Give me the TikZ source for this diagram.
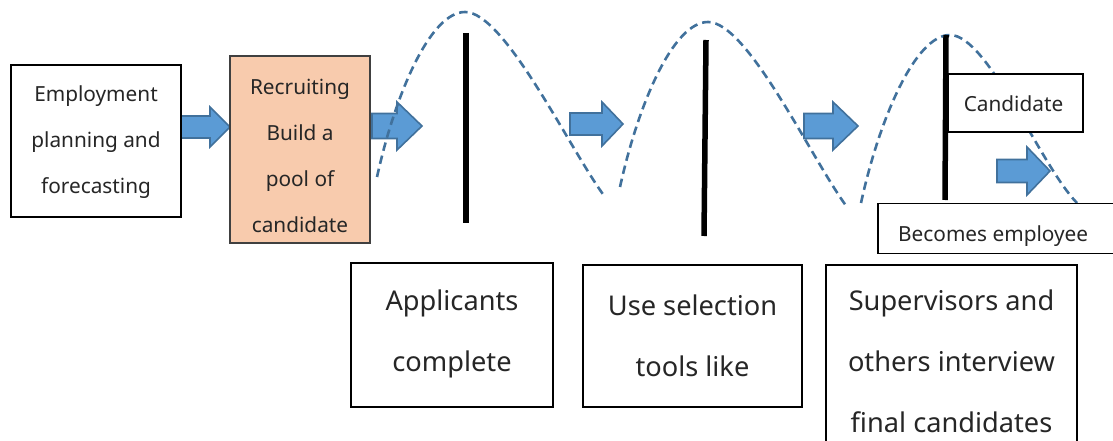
\documentclass[tikz,border=0pt]{standalone}
\usepackage{fontspec}
\setmainfont{Noto Sans}
\definecolor{peach}{HTML}{F8CBAD}
\definecolor{arrowfill}{HTML}{5B9BD5}
\definecolor{arrowline}{HTML}{41719C}

% block arrow: x-start, x-head, x-tip, y-centre, shaft half-height, head half-height
\newcommand\blockarrow[6]{%
  \draw[blockarr] (#1,#4-#5) -- (#2,#4-#5) -- (#2,#4-#6) -- (#3,#4)
    -- (#2,#4+#6) -- (#2,#4+#5) -- (#1,#4+#5) -- cycle;}

\begin{document}
\begin{tikzpicture}[x=1pt,y=-1pt,
  box/.style={draw=black, line width=1.2pt, fill=white, inner sep=0pt},
  txt/.style={inner sep=0pt, align=center, text=black!85},
  small/.style={font=\fontsize{20.8}{46}\selectfont},
  large/.style={font=\fontsize{27.2}{61}\selectfont},
  blockarr/.style={fill=arrowfill, draw=arrowline, line width=1.6pt, line join=miter},
  wave/.style={draw=arrowline, line width=2.6pt, dash pattern=on 8.5pt off 5pt},
  pole/.style={draw=black, line width=5.5pt}]
\useasboundingbox (0,0) rectangle (1113,441);
\clip (0,0) rectangle (1113,441);

% block arrows between the stages
\blockarrow{181}{210}{230}{127}{11}{20}
\blockarrow{372}{397}{422}{126}{12.5}{24}
\blockarrow{570}{602}{623}{124}{11}{22}
\blockarrow{804}{833}{858}{126}{12.5}{24}
\blockarrow{997}{1027}{1050}{171}{11.5}{24}

% hurdles
\draw[wave] (377,177) .. controls (395,95) and (430,12) .. (465,12)
  .. controls (505,12) and (570,150) .. (605,197);
\draw[wave] (620,187) .. controls (638,105) and (673,22) .. (708,22)
  .. controls (748,22) and (812,160) .. (847,207);
\draw[wave] (861,203) .. controls (879,120) and (915,35) .. (950,35)
  .. controls (988,35) and (1040,165) .. (1077,203);

% poles
\coordinate (p1t) at (466,33);  \coordinate (p1b) at (466,223);
\coordinate (p2t) at (706,40);  \coordinate (p2b) at (704,236);
\coordinate (p3t) at (946,35);  \coordinate (p3b) at (945,200);
\draw[pole] (p1t) -- (p1b);
\draw[pole] (p2t) -- (p2b);
\draw[pole] (p3t) -- (p3b);

% stage boxes
\node[box, minimum width=170pt, minimum height=152pt] (plan) at (96,141) {};
\node[txt, small] (plant) at (96,142) {Employment\\planning and\\forecasting};

\node[box, fill=peach, draw=black!75, minimum width=140pt, minimum height=187pt] (recr) at (300,149.5) {};
\node[txt, small] (recrt) at (300,156) {Recruiting\\Build a\\pool of\\candidate};

\node[box, minimum width=202pt, minimum height=144pt] (appl) at (452,335) {};
\node[txt, large] (applt) at (452,334) {Applicants\\complete};

\node[box, minimum width=219pt, minimum height=142pt] (sel) at (692.5,336) {};
\node[txt, large] (selt) at (692.5,336) {Use selection\\tools like};

\node[box, minimum width=251pt, minimum height=210pt] (intv) at (951.5,370) {};
\node[txt, large, anchor=north] (intvt) at (951.5,290) {Supervisors and\\others interview\\final candidates};

\node[box, minimum width=135pt, minimum height=58pt] (cand) at (1015.5,103) {};
\node[txt, small] (candt) at (1013.5,104) {Candidate};

\node[box, minimum width=260pt, minimum height=50pt] (empl) at (1008,228.5) {};
\node[txt, small, anchor=west] (emplt) at (898,236.5) {Becomes employee};
\end{tikzpicture}
\end{document}
